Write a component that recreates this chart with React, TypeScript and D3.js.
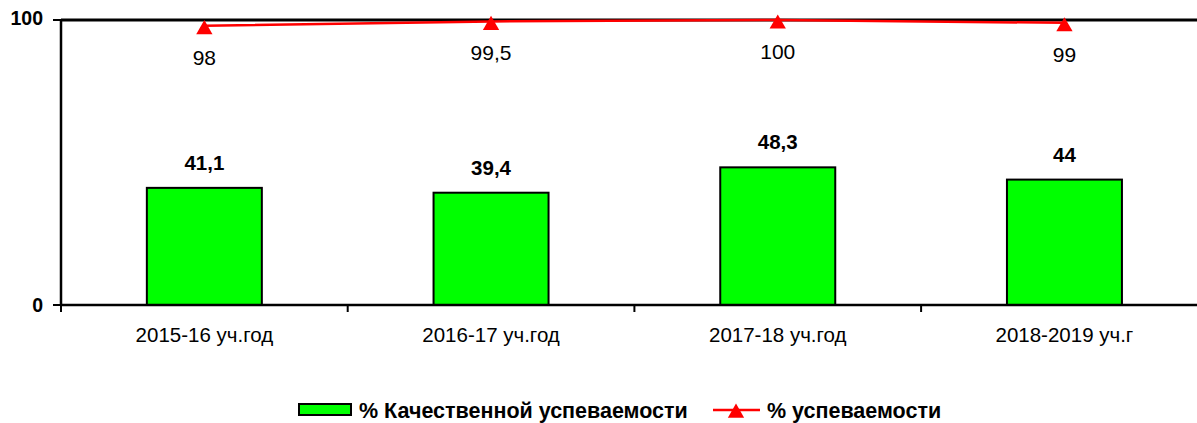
import React from "react";
import * as d3 from "d3";

const categories = ["2015-16 уч.год", "2016-17 уч.год", "2017-18 уч.год", "2018-2019 уч.г"];
const qualityValues = [41.1, 39.4, 48.3, 44];
const qualityLabels = ["41,1", "39,4", "48,3", "44"];
const progressValues = [98, 99.5, 100, 99];
const progressLabels = ["98", "99,5", "100", "99"];
const yTicks = [0, 100];
const seriesNames = ["% Качественной успеваемости", "% успеваемости"];

const W = 1197;
const H = 423;
const left = 61;
const top = 20;
const bottom = 305;
const band = 286.7;

export default function App() {
  const x = d3.scaleBand<string>().domain(categories).range([left, left + band * categories.length]).paddingInner(0).paddingOuter(0);
  const y = d3.scaleLinear().domain([0, 100]).range([bottom, top]);
  const barW = 115;
  const font = "Arial, 'Liberation Sans', sans-serif";
  const tri = d3.symbol().type(d3.symbolTriangle).size(115)();
  const line = d3.line<number>().x((_, i) => x(categories[i])! + x.bandwidth() / 2).y((d) => y(d));

  return (
    <svg width={W} height={H} style={{ position: "absolute", left: 0, top: 0 }} fontFamily={font}>
      <rect width={W} height={H} fill="#fff" />
      {/* bars */}
      {qualityValues.map((v, i) => {
        const cx = x(categories[i])! + x.bandwidth() / 2;
        return (
          <g key={i}>
            <rect x={cx - barW / 2} y={y(v)} width={barW} height={bottom - y(v)} fill="#00ff00" stroke="#000" strokeWidth={2} />
            <text x={cx} y={y(v) - 18} textAnchor="middle" fontSize={20.5} fontWeight="bold" fill="#000">{qualityLabels[i]}</text>
          </g>
        );
      })}
      {/* axes */}
      <line x1={left} x2={W + 20} y1={top} y2={top} stroke="#000" strokeWidth={3} />
      <line x1={left} x2={left} y1={top} y2={bottom} stroke="#000" strokeWidth={2.5} />
      <line x1={left} x2={W + 20} y1={bottom} y2={bottom} stroke="#000" strokeWidth={2.5} />
      {yTicks.map((t) => (
        <g key={t}>
          <line x1={left - 8} x2={left} y1={y(t)} y2={y(t)} stroke="#000" strokeWidth={2} />
          <text x={left - 18} y={y(t) + (t === 100 ? 5 : 7)} textAnchor="end" fontSize={19.5} fontWeight="bold" fill="#000">{t}</text>
        </g>
      ))}
      {categories.map((c, i) => (
        <g key={c}>
          <line x1={x(c)!} x2={x(c)!} y1={bottom} y2={bottom + 7} stroke="#000" strokeWidth={2} />
          <text x={x(c)! + x.bandwidth() / 2} y={342} textAnchor="middle" fontSize={20.5} fill="#000">{c}</text>
        </g>
      ))}
      {/* line series */}
      <path d={line(progressValues)!} fill="none" stroke="#ff0000" strokeWidth={2.5} />
      {progressValues.map((v, i) => {
        const cx = x(categories[i])! + x.bandwidth() / 2;
        return (
          <g key={i}>
            <path d={tri!} transform={`translate(${cx},${y(v) + 3.8})`} fill="#ff0000" />
            <text x={cx} y={y(v) + 39} textAnchor="middle" fontSize={21} fill="#000">{progressLabels[i]}</text>
          </g>
        );
      })}
      {/* legend */}
      <rect x={299} y={404} width={52} height={11} fill="#00ff00" stroke="#000" strokeWidth={2} />
      <text x={359} y={418} fontSize={21.5} fontWeight="bold" fill="#000">{seriesNames[0]}</text>
      <line x1={713} x2={760} y1={410} y2={410} stroke="#ff0000" strokeWidth={2.5} />
      <path d={tri!} transform="translate(736,413)" fill="#ff0000" />
      <text x={767} y={418} fontSize={21.5} fontWeight="bold" fill="#000">{seriesNames[1]}</text>
    </svg>
  );
}
